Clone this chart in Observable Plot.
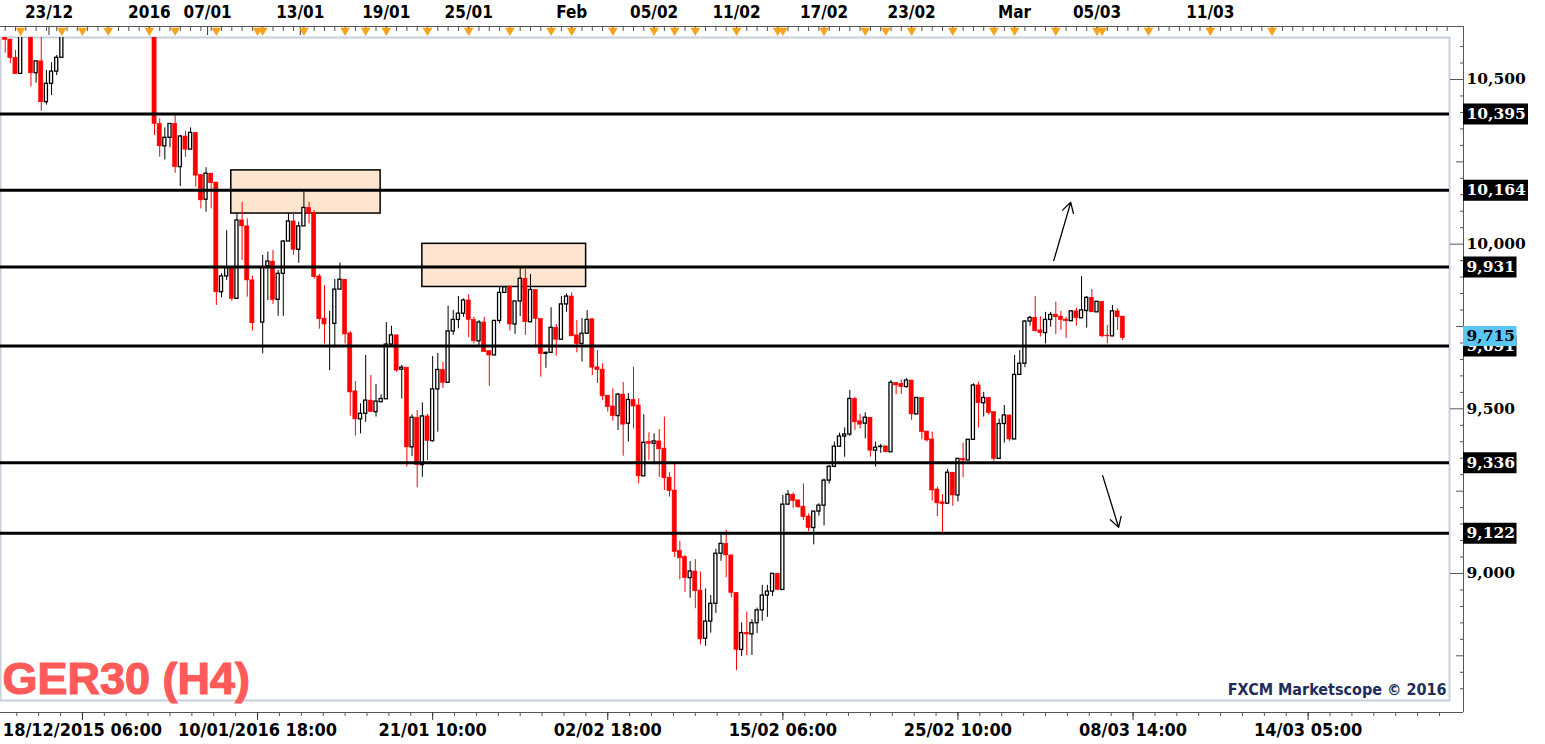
<!DOCTYPE html>
<html><head><meta charset="utf-8">
<script src="https://cdn.jsdelivr.net/npm/d3@7"></script>
<script src="https://cdn.jsdelivr.net/npm/@observablehq/plot@0.6"></script>
<style>
html,body{margin:0;padding:0;background:#fff;}
#chart{width:1545px;height:744px;overflow:hidden;}
</style></head><body><div id="chart"></div>
<script>
// ---- data: 4-hour candles of GER30, slot = candle position on the axis
const slot = [0,1,2,3,5,6,7,8,9,10,11,
29,30,31,32,33,34,35,36,37,38,39,40,41,42,43,44,45,46,47,48,49,50,51,52,53,54,55,56,57,58,
59,60,61,62,63,64,65,66,67,68,69,70,71,72,73,74,75,76,77,78,79,80,81,82,83,84,85,
86,87,88,89,90,91,92,93,94,95,96,97,98,99,100,101,102,103,104,105,106,107,108,109,110,111,112,113,114,115,
116,117,118,119,120,121,122,123,124,125,126,127,128,129,130,131,132,133,134,135,136,137,138,139,140,
141,142,143,144,145,146,147,148,149,150,151,152,153,154,155,156,157,158,159,160,161,162,163,164,165,
166,167,168,169,170,171,172,173,174,175,176,177,178,179,180,181,182,183,184,185,186,187,188,189,190,191,192,193,
194,195,196,197,198,199,200,201,202,203,204,205,206,207,208,209,210,211,212,213,214,215,216,217];
const open = [10650,10621,10566,10517,10660,10519,10555,10431,10487,10524,10566,
10660,10365,10297,10323,10365,10234,10327,10287,10338,10210,10135,10214,10187,9854,9902,9930,9834,10072,10054,9890,9762,9762,9933,9947,9831,9910,10008,10069,9983,10054,
10110,10095,9902,9774,9758,9758,9862,9892,9729,9553,9468,9485,9525,9490,9520,9529,9695,9723,9619,9625,9383,9473,9329,9477,9402,9559,9618,
9579,9735,9770,9789,9829,9770,9705,9762,9675,9662,9767,9852,9871,9756,9826,9895,9763,9861,9773,9667,9670,9746,9710,9817,9841,9723,9697,9728,9772,9626,
9619,9540,9507,9478,9543,9455,9527,9510,9295,9399,9394,9401,9379,9291,9252,9068,9050,8986,9006,8948,8802,8854,8908,9060,9090,
9055,8941,8768,8820,8815,8849,8888,8933,8945,8999,8950,9209,9239,9222,9203,9173,9138,9188,9206,9282,9324,9385,9416,9422,9530,
9462,9455,9473,9373,9384,9386,9368,9579,9576,9566,9586,9483,9533,9431,9407,9255,9216,9212,9306,9237,9348,9343,9406,9571,9517,9533,9490,9348,
9454,9480,9407,9603,9637,9765,9776,9738,9730,9770,9786,9780,9771,9766,9796,9775,9797,9837,9793,9825,9722,9720,9796,9780];
const high = [10650,10621,10588,10660,10660,10555,10660,10527,10551,10573,10670,
10660,10381,10353,10365,10396,10330,10343,10353,10338,10210,10232,10214,10187,9910,10041,9930,10092,10127,10077,9903,9762,9966,9976,9981,9920,10011,10092,10097,10067,10165,
10127,10102,9908,9874,9796,9893,9943,9892,9735,9583,9515,9662,9601,9574,9543,9762,9751,9723,9632,9625,9482,9495,9518,9483,9659,9668,9641,
9812,9799,9841,9834,9846,9778,9768,9778,9675,9768,9869,9871,9871,9826,9930,9925,9908,9861,9773,9672,9807,9756,9841,9849,9852,9768,9774,9798,9772,9677,
9637,9540,9561,9547,9580,9547,9626,9530,9482,9427,9424,9437,9475,9306,9336,9098,9055,9036,9042,9004,8953,8933,9074,9121,9131,
9055,8941,8850,8883,8860,8895,8964,8964,8999,8999,9237,9252,9245,9222,9272,9181,9188,9212,9287,9328,9399,9426,9442,9556,9535,
9483,9488,9473,9399,9392,9386,9586,9579,9588,9592,9586,9533,9533,9431,9429,9262,9240,9316,9306,9348,9396,9406,9576,9581,9550,9533,9490,9469,
9510,9480,9662,9677,9768,9781,9841,9780,9793,9793,9824,9796,9778,9796,9806,9902,9841,9862,9825,9825,9753,9814,9804,9780];
const low = [10580,10548,10516,10517,10477,10489,10403,10422,10451,10512,10566,
10330,10264,10256,10293,10215,10175,10264,10287,10173,10107,10097,10107,9814,9837,9890,9827,9834,9950,9839,9736,9762,9667,9829,9817,9781,9781,10008,9966,9942,10054,
10062,9894,9742,9697,9616,9685,9862,9697,9478,9417,9424,9459,9490,9475,9520,9529,9687,9611,9530,9323,9355,9260,9292,9343,9399,9429,9562,
9579,9723,9743,9778,9716,9697,9687,9672,9568,9662,9758,9852,9736,9726,9780,9723,9763,9685,9596,9623,9670,9660,9710,9793,9720,9670,9642,9728,9601,9577,
9525,9490,9462,9434,9356,9399,9439,9272,9295,9343,9330,9292,9252,9232,9049,8981,8943,8925,8893,8783,8779,8819,8879,9037,8987,
8926,8705,8748,8751,8751,8817,8855,8867,8930,8950,8950,9209,9198,9198,9161,9127,9087,9174,9144,9272,9321,9385,9353,9416,9434,
9439,9409,9353,9323,9365,9368,9368,9543,9543,9563,9465,9483,9406,9399,9220,9173,9125,9212,9204,9217,9291,9343,9406,9442,9475,9480,9341,9348,
9396,9401,9407,9603,9625,9751,9733,9718,9697,9748,9726,9738,9714,9766,9751,9775,9745,9793,9793,9716,9697,9720,9738,9707];
const close = [10620,10565,10516,10660,10519,10555,10431,10487,10524,10566,10660,
10365,10297,10323,10365,10234,10327,10287,10338,10208,10133,10214,10185,9854,9902,9930,9834,10072,10054,9890,9760,9762,9930,9947,9831,9910,10008,10069,9983,10054,10110,
10092,9900,9772,9756,9758,9862,9892,9726,9550,9468,9485,9525,9490,9522,9530,9695,9723,9616,9625,9383,9473,9329,9477,9402,9559,9618,9579,
9735,9770,9789,9829,9770,9705,9762,9672,9662,9767,9852,9869,9756,9826,9895,9763,9861,9773,9667,9670,9746,9710,9817,9841,9720,9697,9728,9770,9625,9618,
9538,9505,9478,9543,9452,9527,9507,9295,9397,9394,9401,9377,9289,9250,9065,9046,8986,9006,8946,8800,8854,8908,9060,9090,9055,
8941,8768,8819,8815,8849,8888,8933,8945,8999,8950,9209,9239,9220,9201,9171,9138,9188,9206,9282,9324,9385,9416,9422,9530,9459,
9452,9473,9373,9382,9385,9368,9579,9571,9566,9586,9483,9533,9429,9404,9252,9213,9210,9306,9237,9348,9343,9406,9571,9517,9533,9487,9348,9454,
9480,9407,9603,9637,9765,9776,9736,9730,9770,9785,9778,9770,9766,9796,9775,9799,9837,9793,9825,9720,9720,9796,9778,9715];

const levels = [10395, 10164, 9931, 9691, 9336, 9122];
const lastPrice = 9715;
const priceTicks = [9000, 9500, 10000, 10500];

const topLabels = ["23/12","2016","07/01","13/01","19/01","25/01","Feb","05/02","11/02","17/02","23/02","Mar","05/03","11/03"];
const topLabelSlot = [8.5,28,39.3,57.3,74,90,110,126,142,159,176,196,212,234];
const eventSlot = [3,11,15,20,28,33,41,49,50,58,66,70,74,82,90,98,106,110,118,126,130,134,142,150,151,159,167,171,176,184,192,196,204,212,213,222,234,246];

const bottomLabels = ["18/12/2015 06:00","10/01/2016 18:00","21/01 10:00","02/02 18:00","15/02 06:00","25/02 10:00","08/03 14:00","14/03 05:00"];
const bottomSlot = [15,49,83,117,151,185,219,253];

// supply / demand zones
const zoneStart = [43.9, 81.0];
const zoneEnd   = [72.9, 112.8];
const zoneLow   = [10093, 9870];
const zoneHigh  = [10224, 10001];

// scenario arrows
const arrowFromSlot = [203.6, 213.1];
const arrowFromPrice = [9950, 9297];
const arrowToSlot = [206.9, 216.2];
const arrowToPrice = [10127, 9140];

// ---- layout helpers (pixel <-> data for decorations outside the frame)
const SLOT_W = 5.15, SLOT0 = 4.7;
const pxX = px => (px - SLOT0) / SLOT_W;
const pxY = py => 10500 - (py - 79) * 3.0365;
const X0 = pxX(0), X1 = pxX(1449);
const Y0 = pxY(700), Y1 = pxY(37);

const candles = slot.map((s, k) => ({i: s, o: open[k], h: high[k], l: low[k], c: close[k], up: close[k] >= open[k]}));
const ups = candles.filter(d => d.up), downs = candles.filter(d => !d.up);
const zones = zoneStart.map((s, k) => ({x1: s, x2: zoneEnd[k], y1: zoneLow[k], y2: zoneHigh[k]}));
const arrows = arrowFromSlot.map((s, k) => ({x1: s, y1: arrowFromPrice[k], x2: arrowToSlot[k], y2: arrowToPrice[k]}));

const fmt = d3.format(",");
const dateFont = "'DejaVu Sans Condensed','DejaVu Sans',sans-serif";
const priceFont = "'DejaVu Serif',serif";
const minor50 = d3.range(8650, 10627, 50).filter(v => v % 250 !== 0);
const mid250 = d3.range(8750, 10627, 250).filter(v => v % 500 !== 0);
const topMinor = d3.range(0, 281, 2);
const bottomMinor = d3.range(2.25, 281, 4.25);
const labelW = s => s.length * 11.5 - 4;
const TAG_X = 1463;

const chart = Plot.plot({
  width: 1545, height: 744,
  marginLeft: 0, marginRight: 96, marginTop: 37, marginBottom: 44,
  x: {domain: [X0, X1]},
  y: {domain: [Y0, Y1]},
  style: {background: "#fff", overflow: "visible"},
  marks: [
    Plot.frame({stroke: "#c8d0dc", strokeWidth: 2}),
    // zones
    Plot.rect(zones, {x1: "x1", x2: "x2", y1: "y1", y2: "y2", fill: "#fde5cf", stroke: "#000", strokeWidth: 1.5}),
    // wicks
    Plot.ruleX(downs, {x: "i", y1: "l", y2: "h", stroke: "#ff0000", strokeWidth: 1, clip: true}),
    Plot.ruleX(ups, {x: "i", y1: "l", y2: "h", stroke: "#000", strokeWidth: 1, clip: true}),
    // bodies
    Plot.rect(downs, {x1: d => d.i - 0.4, x2: d => d.i + 0.4, y1: "o", y2: "c", fill: "#ff0000", stroke: "#ff0000", strokeWidth: 0.6, clip: true}),
    Plot.rect(ups, {x1: d => d.i - 0.3, x2: d => d.i + 0.3, y1: "o", y2: "c", fill: "#fff", stroke: "#000", strokeWidth: 1.3, clip: true}),
    // horizontal levels
    Plot.ruleY(levels, {y: d => d, stroke: "#000", strokeWidth: 3}),
    // arrows
    Plot.arrow(arrows, {x1: "x1", y1: "y1", x2: "x2", y2: "y2", stroke: "#000", strokeWidth: 1.3, headLength: 13}),

    // axis lines
    Plot.ruleY([pxY(26)], {x1: X0, x2: pxX(TAG_X), stroke: "#555", strokeWidth: 1}),
    Plot.ruleY([pxY(712)], {x1: X0, x2: pxX(TAG_X), stroke: "#555", strokeWidth: 1}),
    Plot.ruleX([pxX(TAG_X)], {y1: pxY(26), y2: pxY(712), stroke: "#555", strokeWidth: 1}),

    // top axis
    Plot.axisX({anchor: "top", ticks: topMinor, tickSize: -4, dy: -11, tickFormat: () => "", stroke: "#555"}),
    Plot.axisX({anchor: "top", ticks: topLabelSlot, tickSize: -8, dy: -11, tickFormat: () => "", stroke: "#333"}),
    Plot.dot(eventSlot, {x: d => d, frameAnchor: "top", dy: -7, symbol: "triangle", rotate: 180, r: 3.6, fill: "#f5a31a", stroke: "none"}),
    Plot.text(topLabelSlot, {x: d => d, text: (d, k) => topLabels[k], frameAnchor: "top", lineAnchor: "middle", dy: -25, fontSize: 17, fontWeight: "bold", fontFamily: dateFont, fill: "#000"}),

    // bottom axis
    Plot.axisX({anchor: "bottom", ticks: bottomMinor, tickSize: 4, dy: 12, tickFormat: () => "", stroke: "#555"}),
    Plot.axisX({anchor: "bottom", ticks: bottomSlot, tickSize: 8, dy: 12, tickPadding: 3,
      tickFormat: d => bottomLabels[bottomSlot.indexOf(d)], fontSize: 18, fontWeight: "bold", fontFamily: dateFont, fill: "#000", stroke: "#333"}),

    // right axis
    Plot.axisY({anchor: "right", ticks: minor50, tickSize: 4, dx: 10, tickFormat: () => "", stroke: "#555"}),
    Plot.axisY({anchor: "right", ticks: mid250, tickSize: 8, dx: 6, tickFormat: () => "", stroke: "#555"}),
    Plot.axisY({anchor: "right", ticks: priceTicks, tickSize: 14, tickPadding: 3, tickFormat: fmt,
      fontSize: 15.5, fontWeight: "bold", fontFamily: priceFont, fill: "#000", stroke: "#555", textAnchor: "start"}),

    // level price tags
    Plot.ruleY(levels, {y: d => d, x1: pxX(TAG_X), x2: d => pxX(TAG_X + labelW(fmt(d))), stroke: "#000", strokeWidth: 21}),
    Plot.text(levels, {y: d => d, text: d => fmt(d), frameAnchor: "right", dx: 17, textAnchor: "start", fill: "#fff", fontSize: 15.5, fontWeight: "bold", fontFamily: priceFont}),
    Plot.ruleY([lastPrice], {y: d => d, dy: -2, x1: pxX(TAG_X), x2: d => pxX(TAG_X + labelW(fmt(d))), stroke: "#5cc6f2", strokeWidth: 20}),
    Plot.text([lastPrice], {y: d => d, dy: -2, text: d => fmt(d), frameAnchor: "right", dx: 17, textAnchor: "start", fill: "#000", fontSize: 15.5, fontWeight: "bold", fontFamily: priceFont}),

    // captions
    Plot.text(["GER30 (H4)"], {frameAnchor: "bottom-left", lineAnchor: "middle", dx: 2, dy: -21, textAnchor: "start", fill: "#ff5a5a", stroke: "#ff5a5a", strokeWidth: 1.2, fontSize: 45, fontWeight: "bold", fontFamily: "'Liberation Sans',Arial,sans-serif"}),
    Plot.text(["FXCM Marketscope © 2016"], {frameAnchor: "bottom-right", lineAnchor: "middle", dx: -3, dy: -11, textAnchor: "end", fill: "#1f2d5c", fontSize: 16, fontWeight: "bold", fontFamily: dateFont})
  ]
});
document.getElementById("chart").appendChild(chart);
</script>
</body></html>
